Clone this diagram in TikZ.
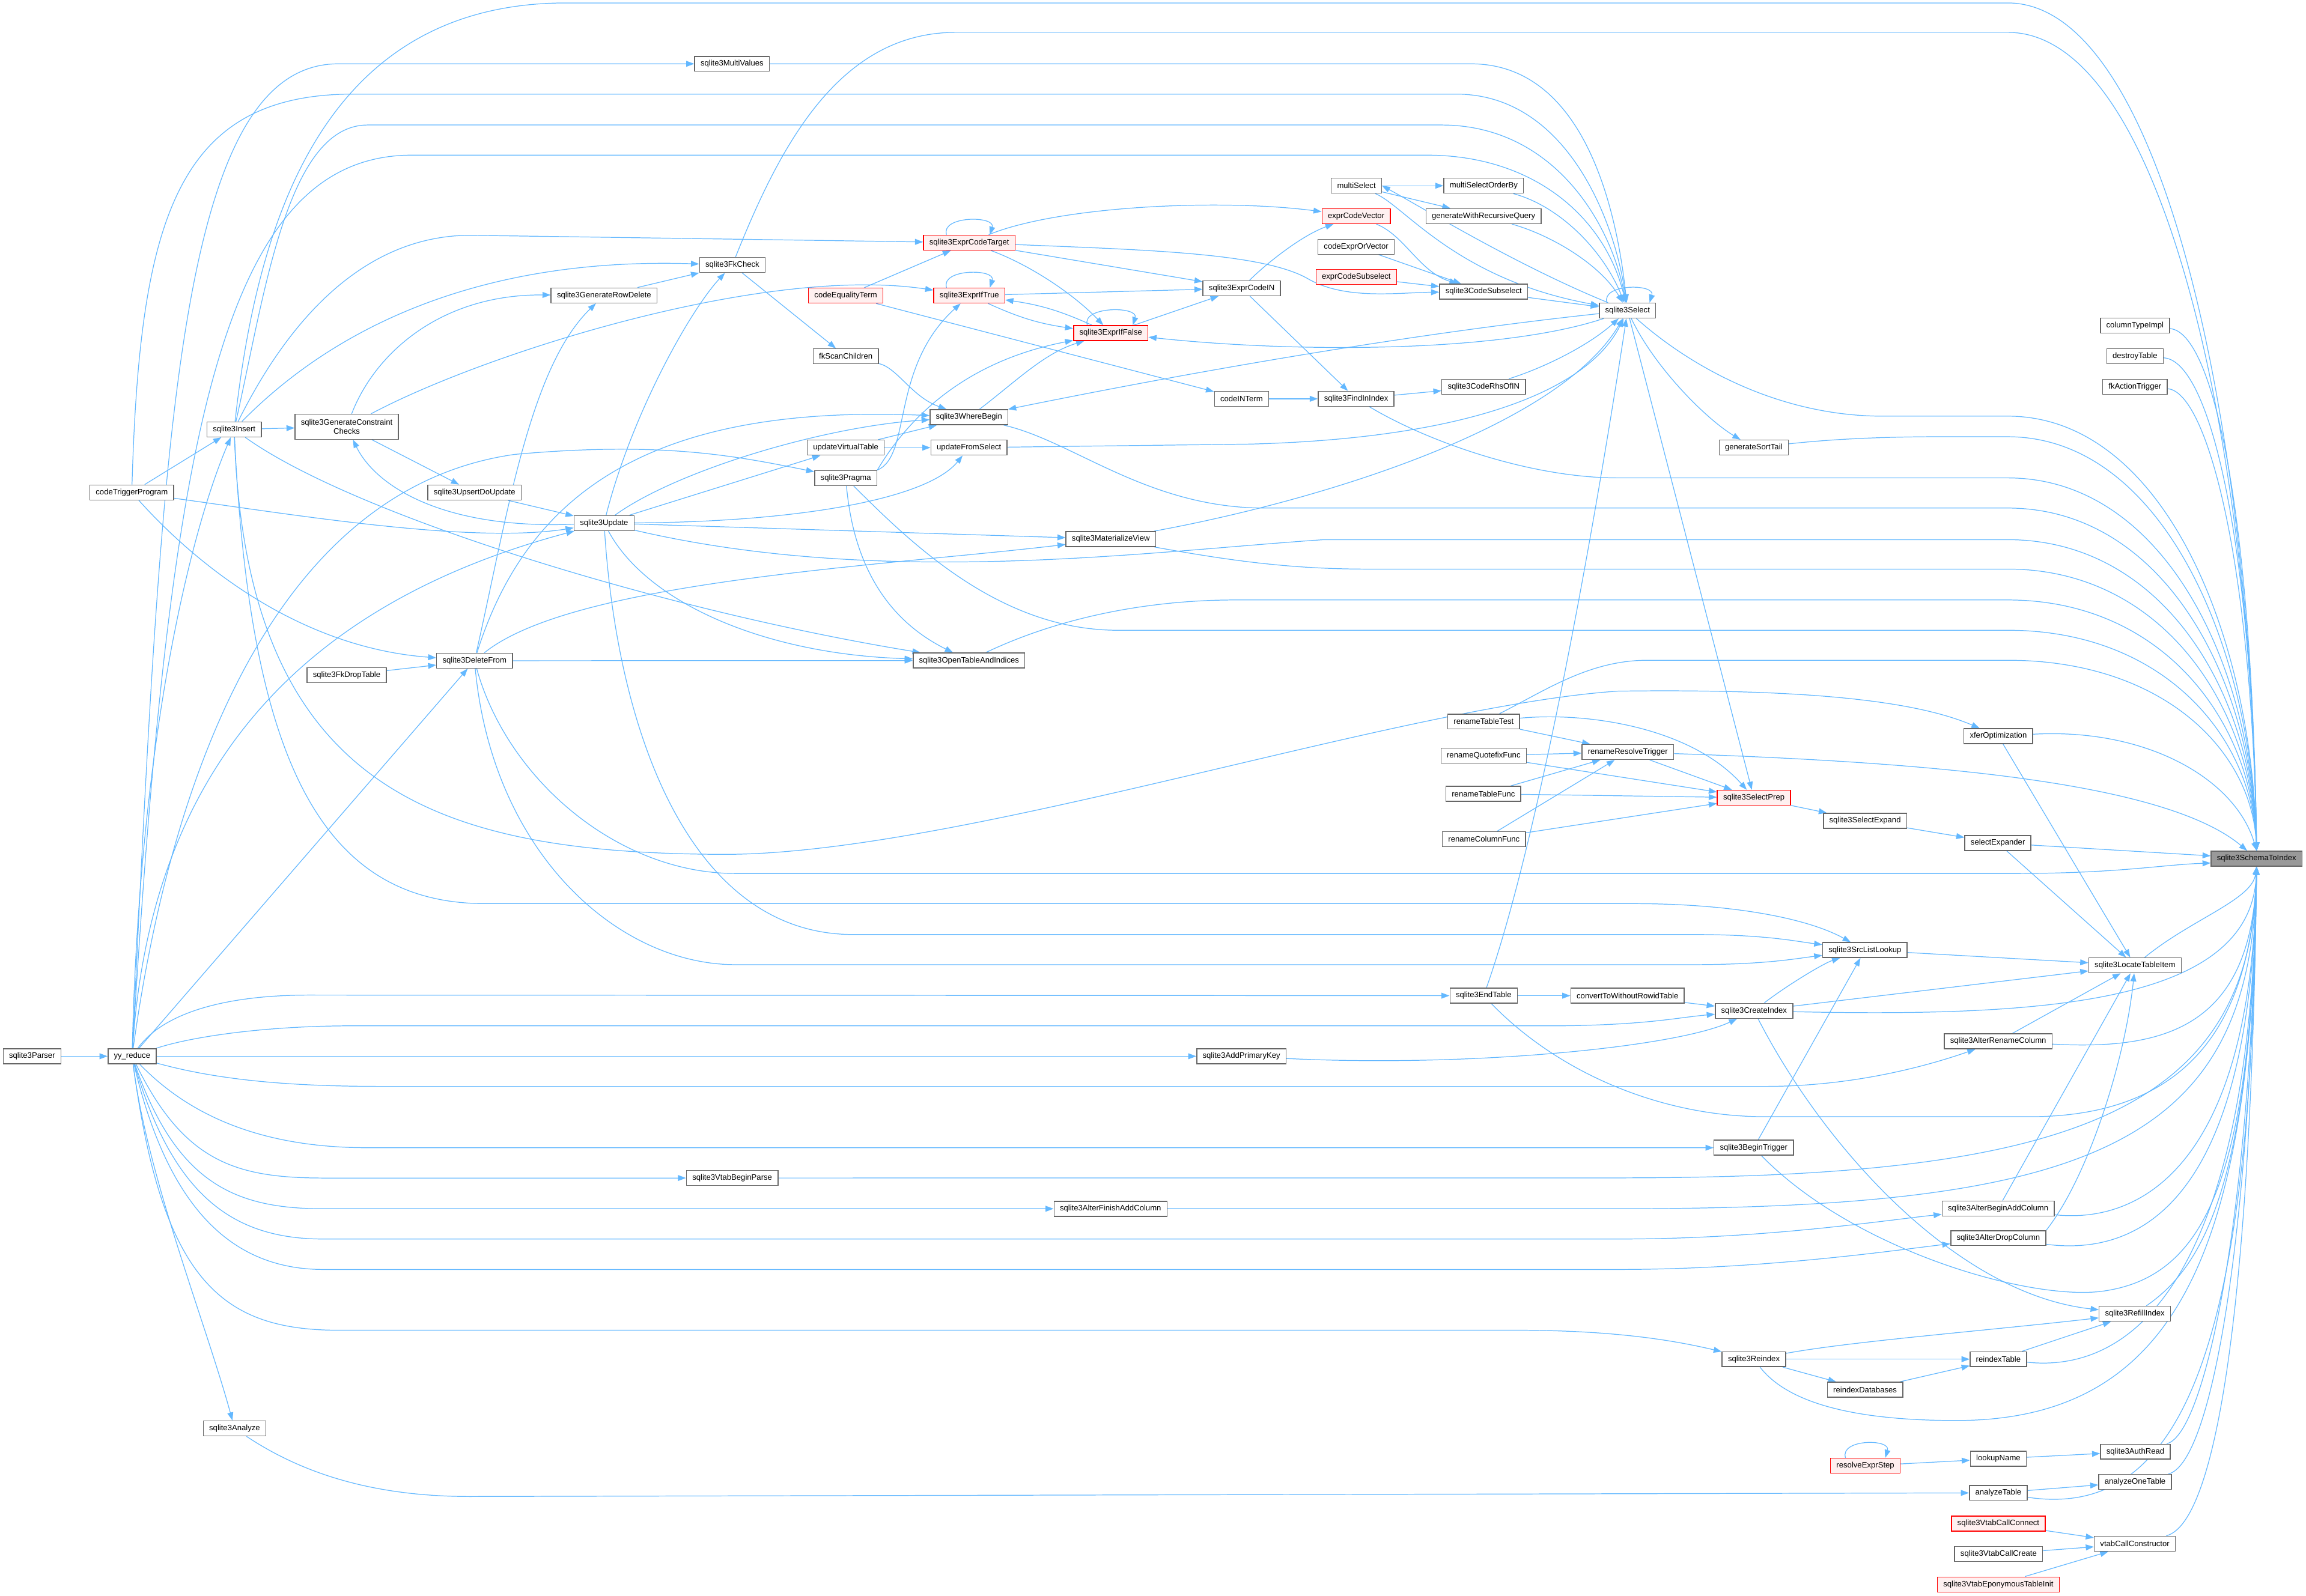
\documentclass[tikz,border=0pt]{standalone}
\usepackage{fontspec}
\setmainfont{Liberation Sans}
\usetikzlibrary{arrows.meta,backgrounds}
\definecolor{edgeblue}{HTML}{63B8FF}
\definecolor{boxgray}{HTML}{666666}
\definecolor{hotfill}{HTML}{FFF0F0}
\definecolor{rootfill}{HTML}{999999}

\begin{document}
\begin{tikzpicture}[x=1pt, y=-1pt,
    fn/.style={draw=boxgray, line width=0.6pt, fill=white, inner xsep=4pt,
        inner ysep=0pt, minimum height=10.2pt, font=\fontsize{5.36}{6.4}\selectfont},
    hot/.style={fn, draw=red, fill=hotfill},
    root/.style={fn, fill=rootfill},
    edge/.style={draw=edgeblue, line width=0.5pt, -{Triangle[length=5.5pt,width=4pt]}}]

\node[root](sti) at (1534.2,583.9){sqlite3SchemaToIndex};
\node[fn](colt) at (1451.5,221.4){columnTypeImpl};
\node[fn](dest) at (1451.5,242.3){destroyTable};
\node[fn](fkat) at (1451.5,263){fkActionTrigger};
\node[fn](sel) at (1106.5,211.2){sqlite3Select};
\node[fn](msel) at (922.2,126.3){multiSelect};
\node[fn](mso) at (1008.7,126.3){multiSelectOrderBy};
\node[fn](gwr) at (1008.6,147){generateWithRecursiveQuery};
\node[hot](ecv) at (922,147){exprCodeVector};
\node[fn](ceov) at (922,167.8){codeExprOrVector};
\node[hot](ecs) at (922.1,188.4){exprCodeSubselect};
\node[fn](csub) at (1008.7,198.3){sqlite3CodeSubselect};
\node[fn](ecin) at (844.2,196){sqlite3ExprCodeIN};
\node[hot](ect) at (659,165){sqlite3ExprCodeTarget};
\node[hot](eit) at (659,201){sqlite3ExprIfTrue};
\node[hot](eif) at (755.2,226.5){sqlite3ExprIfFalse};
\node[hot](ceq) at (575,201){codeEqualityTerm};
\node[fn](fksc) at (575,242.3){fkScanChildren};
\node[fn](cint) at (844.1,271.2){codeINTerm};
\node[fn](fii) at (922,271.2){sqlite3FindInIndex};
\node[fn](crhs) at (1008.7,263){sqlite3CodeRhsOfIN};
\node[fn](gst) at (1192.3,304.4){generateSortTail};
\node[fn](wb) at (658.8,283.7){sqlite3WhereBegin};
\node[fn](uvt) at (575,304.4){updateVirtualTable};
\node[fn](ufs) at (658.8,304.4){updateFromSelect};
\node[fn](prag) at (575,325.1){sqlite3Pragma};
\node[fn](mview) at (755.2,366.6){sqlite3MaterializeView};
\node[fn](mval) at (497.7,43.4){sqlite3MultiValues};
\node[fn](fkc) at (497.9,180.2){sqlite3FkCheck};
\node[fn](grd) at (410.7,200.9){sqlite3GenerateRowDelete};
\node[fn](ins) at (159.2,292){sqlite3Insert};
\node[fn, align=center, minimum height=17pt](gcc) at (235.7,290.2){sqlite3GenerateConstraint\\Checks};
\node[fn](ctp) at (89.6,334.9){codeTriggerProgram};
\node[fn](upsert) at (322.6,334.9){sqlite3UpsertDoUpdate};
\node[fn](upd) at (410.7,355.7){sqlite3Update};
\node[fn](del) at (322.6,449.3){sqlite3DeleteFrom};
\node[fn](fkdrop) at (235.7,459.1){sqlite3FkDropTable};
\node[fn](parser) at (21.8,718.3){sqlite3Parser};
\node[fn](yy) at (89.8,718.3){yy\_reduce};
\node[fn](ota) at (658.8,449.2){sqlite3OpenTableAndIndices};
\node[fn](rtt) at (1008.7,490.7){renameTableTest};
\node[fn](rqf) at (1008.7,513.9){renameQuotefixFunc};
\node[fn](rtf) at (1008.5,539.8){renameTableFunc};
\node[fn](rcf) at (1008.9,570.7){renameColumnFunc};
\node[fn](rrt) at (1106.7,511.4){renameResolveTrigger};
\node[hot](sprep) at (1192.4,542.5){sqlite3SelectPrep};
\node[fn](sexp) at (1268,558.2){sqlite3SelectExpand};
\node[fn](sexpr) at (1358.3,573.3){selectExpander};
\node[fn](xfer) at (1358.6,500.6){xferOptimization};
\node[fn](sll) at (1267.9,646.1){sqlite3SrcListLookup};
\node[fn](lti) at (1451.5,656.5){sqlite3LocateTableItem};
\node[fn](endt) at (1008.7,677.1){sqlite3EndTable};
\node[fn](cwr) at (1106.5,677.1){convertToWithoutRowidTable};
\node[fn](cidx) at (1192.5,687.4){sqlite3CreateIndex};
\node[fn](apk) at (844,718.3){sqlite3AddPrimaryKey};
\node[fn](arc) at (1358.5,708.1){sqlite3AlterRenameColumn};
\node[fn](btrig) at (1192.3,780.5){sqlite3BeginTrigger};
\node[fn](vbp) at (497.8,801.1){sqlite3VtabBeginParse};
\node[fn](afac) at (755,822){sqlite3AlterFinishAddColumn};
\node[fn](abac) at (1358.5,821.8){sqlite3AlterBeginAddColumn};
\node[fn](adc) at (1358.6,842){sqlite3AlterDropColumn};
\node[fn](rfi) at (1451.4,893.4){sqlite3RefillIndex};
\node[fn](rdx) at (1192.4,924.3){sqlite3Reindex};
\node[fn](rtab) at (1358.6,924.3){reindexTable};
\node[fn](rdb) at (1268,945.1){reindexDatabases};
\node[fn](ana) at (159.5,971.4){sqlite3Analyze};
\node[fn](auth) at (1451.8,987.2){sqlite3AuthRead};
\node[hot](res) at (1268.2,996.8){resolveExprStep};
\node[fn](lkn) at (1358.6,992){lookupName};
\node[fn](aot) at (1451.6,1007.8){analyzeOneTable};
\node[fn](atab) at (1358.6,1015.2){analyzeTable};
\node[hot](vcc) at (1358.6,1036.1){sqlite3VtabCallConnect};
\node[fn](vcon) at (1451.4,1049.8){vtabCallConstructor};
\node[fn](vcr) at (1358.8,1056.8){sqlite3VtabCallCreate};
\node[hot](vept) at (1358.6,1077.5){sqlite3VtabEponymousTableInit};

\begin{scope}[on background layer]
\fill[white] (0,0) rectangle (1567.8,1085);

% into the root from above
\draw[edge] (ins) .. controls (175,150) and (220,2) .. (385,2) -- (1365,2) .. controls (1470,2) and (1531,290) .. (sti.north);
\draw[edge] (fkc) .. controls (530,100) and (570,22) .. (650,22) -- (1365,22) .. controls (1470,22) and (1531,300) .. (sti.north);
\draw[edge] (colt) .. controls (1505,226) and (1531,350) .. (sti.north);
\draw[edge] (dest) .. controls (1502,245) and (1531,365) .. (sti.north);
\draw[edge] (fkat) .. controls (1500,266) and (1531,380) .. (sti.north);
\draw[edge] (sel) .. controls (1150,250) and (1210,283) .. (1280,283) -- (1365,283) .. controls (1470,283) and (1531,430) .. (sti.north);
\draw[edge] (gst) .. controls (1270,296) and (1320,297) .. (1365,297) .. controls (1470,297) and (1531,440) .. (sti.north);
\draw[edge] (fii) .. controls (970,300) and (1040,325) .. (1100,325) -- (1365,325) .. controls (1470,325) and (1531,450) .. (sti.north);
\draw[edge] (wb) .. controls (730,300) and (780,345.5) .. (860,345.5) -- (1365,345.5) .. controls (1470,345.5) and (1531,460) .. (sti.north);
\draw[edge] (upd) .. controls (600,400) and (780,375) .. (900,367) -- (1365,367) .. controls (1470,367) and (1531,470) .. (sti.north);
\draw[edge] (mview) .. controls (840,382) and (880,387) .. (930,387) -- (1365,387) .. controls (1470,387) and (1531,480) .. (sti.north);
\draw[edge] (ota) .. controls (720,420) and (780,408) .. (840,408) -- (1365,408) .. controls (1470,408) and (1531,490) .. (sti.north);
\draw[edge] (prag) .. controls (620,370) and (680,428.6) .. (760,428.6) -- (1365,428.6) .. controls (1470,428.6) and (1531,500) .. (sti.north);
\draw[edge] (rtt) .. controls (1050,470) and (1080,449) .. (1120,449) -- (1365,449) .. controls (1470,449) and (1531,510) .. (sti.north);
\draw[edge] (rrt) .. controls (1300,518) and (1470,530) .. (sti);
\draw[edge] (xfer) .. controls (1460,495) and (1520,530) .. (sti.north);
\draw[edge] (sexpr) -- (sti);
\draw[edge] (del) .. controls (345,530) and (420,594) .. (500,594) -- (1370,594) .. controls (1440,594) and (1470,588) .. ([yshift=-3pt]sti.west);

% into the root from below
\draw[edge] (lti) .. controls (1490,625) and (1531,612) .. (sti.south);
\draw[edge] (cidx) .. controls (1400,692) and (1531,680) .. (sti.south);
\draw[edge] (arc) .. controls (1470,714) and (1531,700) .. (sti.south);
\draw[edge] (endt) .. controls (1060,730) and (1130,759.4) .. (1200,759.4) -- (1380,759.4) .. controls (1500,759.4) and (1531,680) .. (sti.south);
\draw[edge] (vbp) -- (1100,801) .. controls (1400,801) and (1531,760) .. (sti.south);
\draw[edge] (afac) -- (1100,822) .. controls (1420,822) and (1531,780) .. (sti.south);
\draw[edge] (abac) .. controls (1450,832) and (1531,800) .. (sti.south);
\draw[edge] (adc) .. controls (1460,855) and (1531,810) .. (sti.south);
\draw[edge] (btrig) .. controls (1260,850) and (1380,885) .. (1430,878) .. controls (1500,868) and (1531,800) .. (sti.south);
\draw[edge] (rfi) .. controls (1500,860) and (1531,800) .. (sti.south);
\draw[edge] (rtab) .. controls (1460,935) and (1531,850) .. (sti.south);
\draw[edge] (rdx) .. controls (1220,960) and (1280,966) .. (1330,966) .. controls (1480,966) and (1531,850) .. (sti.south);
\draw[edge] (auth) .. controls (1500,975) and (1531,820) .. (sti.south);
\draw[edge] (aot) .. controls (1505,995) and (1531,830) .. (sti.south);
\draw[edge] (atab) .. controls (1490,1035) and (1531,900) .. (sti.south);
\draw[edge] (vcon) .. controls (1510,1035) and (1531,860) .. (sti.south);

% into sqlite3Select
\draw[edge] (mval) -- (1000,43.4) .. controls (1080,43.4) and (1100,150) .. (sel);
\draw[edge] (ctp) .. controls (95,150) and (120,64) .. (240,64) -- (990,64) .. controls (1065,64) and (1098,150) .. (sel);
\draw[edge] (ins) .. controls (180,200) and (195,85) .. (250,85) -- (980,85) .. controls (1055,85) and (1095,150) .. (sel);
\draw[edge] (yy) .. controls (115,300) and (150,105.5) .. (280,105.5) -- (970,105.5) .. controls (1045,105.5) and (1092,150) .. (sel);
\draw[edge] (mso) .. controls (1060,140) and (1090,170) .. (sel);
\draw[edge] (gwr) .. controls (1055,160) and (1088,180) .. (sel);
\draw[edge] (msel) .. controls (955,140) and (990,190) .. (sel);
\draw[edge] (sel) .. controls (1030,180) and (965,140) .. (msel.east);
\draw[edge] (csub) -- (sel);
\draw[edge] (crhs) .. controls (1050,250) and (1080,235) .. (sel);
\draw[edge] (mview) .. controls (900,340) and (1060,290) .. (sel);
\draw[edge] (ufs) -- (850,302) .. controls (1000,298) and (1080,265) .. (sel);
\draw[edge] (endt) .. controls (1050,560) and (1090,320) .. (sel);
\draw[edge] ([xshift=-14pt]sel.north) .. controls +(-4,-13) and +(4,-13) .. ([xshift=15pt]sel.north);

% out of sqlite3Select
\draw[edge] (sel) .. controls (1020,240) and (880,240) .. (eif);
\draw[edge] (sel) .. controls (950,228) and (800,255) .. (wb);
\draw[edge] (sel) .. controls (1125,250) and (1160,285) .. (gst);
\draw[edge] (sel) -- (sprep);

% expression code
\draw[edge] ([xshift=-15.5pt]ect.north) .. controls +(-4,-13) and +(4,-13) .. ([xshift=14pt]ect.north);
\draw[edge] ([xshift=-15.5pt]eit.north) .. controls +(-4,-13) and +(4,-13) .. ([xshift=14pt]eit.north);
\draw[edge] ([xshift=-16pt]eif.north) .. controls +(-4,-13) and +(4,-13) .. ([xshift=15pt]eif.north);
\draw[edge] (ect) .. controls (780,170) and (860,172) .. (890,190) .. controls (915,204) and (950,199) .. (csub);
\draw[edge] (ect) .. controls (720,140) and (830,135) .. (ecv);
\draw[edge] (ect) -- (ecin);
\draw[edge] (ect) .. controls (700,180) and (730,200) .. (eif);
\draw[edge] (ceq) -- (ect);
\draw[edge] (ceq) -- (cint);
\draw[edge] (eit) -- (ecin);
\draw[edge] (eit) to[bend right=8] (eif);
\draw[edge] (eif) to[bend right=8] (eit);
\draw[edge] (eif) -- (ecin);
\draw[edge] (ecin) .. controls (860,180) and (885,160) .. (ecv);
\draw[edge] (ecin) -- (fii);
\draw[edge] (cint) -- (fii);
\draw[edge] (fii) -- (crhs);
\draw[edge] (ecv) .. controls (955,160) and (965,185) .. (csub);
\draw[edge] (ceov) -- (csub);
\draw[edge] (ecs) -- (csub);
\draw[edge] (msel) -- (mso);
\draw[edge] (msel) -- (gwr);

% where clause and foreign keys
\draw[edge] (fkc) -- (fksc);
\draw[edge] (fksc) .. controls (610,250) and (620,270) .. (wb);
\draw[edge] (wb) .. controls (690,260) and (710,240) .. (eif);
\draw[edge] (uvt) -- (wb);
\draw[edge] (uvt) -- (ufs);
\draw[edge] (prag.north east) .. controls (620,310) and (605,250) .. (eit);
\draw[edge] (prag.north east) .. controls (620,280) and (660,245) .. (eif);
\draw[edge] (prag) .. controls (580,380) and (600,420) .. (ota);

% statements
\draw[edge] (parser) -- (yy);
\draw[edge] (yy) .. controls (95,500) and (130,360) .. (ins);
\draw[edge] (ctp) -- (ins);
\draw[edge] (yy) .. controls (110,300) and (120,43.4) .. (230,43.4) -- (mval);
\draw[edge] (ins) .. controls (190,230) and (240,160) .. (320,160) -- (ect);
\draw[edge] (ins) .. controls (230,220) and (330,175) .. (fkc);
\draw[edge] (ins) -- (gcc);
\draw[edge] (ins) .. controls (240,350) and (450,415) .. (ota);
\draw[edge] (ins) .. controls (168,540) and (300,580) .. (490,581) .. controls (650,582) and (950,480) .. (1100,470) .. controls (1250,468) and (1310,480) .. (xfer);
\draw[edge] (ins) .. controls (170,520) and (220,614.5) .. (330,614.5) -- (1110,614.5) .. controls (1180,614.5) and (1230,625) .. (sll);
\draw[edge] (gcc) .. controls (255,240) and (300,200) .. (grd);
\draw[edge] (gcc) .. controls (330,240) and (520,180) .. (eit);
\draw[edge] (gcc) -- (upsert);
\draw[edge] (upsert) -- (upd);
\draw[edge] (upd) .. controls (300,360) and (255,330) .. (gcc);
\draw[edge] (grd) -- (fkc);
\draw[edge] (del) .. controls (345,350) and (360,250) .. (grd);
\draw[edge] (upd) .. controls (430,280) and (470,210) .. (fkc);
\draw[edge] (upd) .. controls (460,320) and (560,290) .. (wb);
\draw[edge] (del) .. controls (360,330) and (450,275) .. (wb);
\draw[edge] (upd) -- (uvt);
\draw[edge] (upd) .. controls (540,355) and (630,340) .. (ufs);
\draw[edge] (upd) -- (mview);
\draw[edge] (del) .. controls (390,395) and (600,385) .. (mview);
\draw[edge] (upd) .. controls (440,410) and (520,445) .. (ota);
\draw[edge] (del) -- (ota);
\draw[edge] (upd) .. controls (420,500) and (470,635.5) .. (580,635.5) -- (1150,635.5) .. controls (1200,635.5) and (1220,640) .. (sll);
\draw[edge] (del) .. controls (335,580) and (420,656) .. (500,656) -- (1150,656) .. controls (1200,656) and (1220,652) .. (sll);
\draw[edge] (ctp) .. controls (200,350) and (320,370) .. (upd);
\draw[edge] (ctp) .. controls (130,380) and (200,440) .. (del);
\draw[edge] (yy) .. controls (100,560) and (170,420) .. (upd);
\draw[edge] (yy) -- (del);
\draw[edge] (yy) .. controls (120,500) and (200,330) .. (350,309) .. controls (450,300) and (500,310) .. (prag);
\draw[edge] (yy) .. controls (100,800) and (140,900) .. (ana);
\draw[edge] (fkdrop) -- (del);

% parser actions
\draw[edge] (yy) .. controls (110,690) and (150,676.7) .. (210,676.7) -- (endt);
\draw[edge] (yy) .. controls (130,705) and (180,697.6) .. (240,697.6) -- (1060,697.6) .. controls (1120,697) and (1140,692) .. (cidx);
\draw[edge] (yy) -- (apk);
\draw[edge] (yy) .. controls (150,735) and (200,738.8) .. (260,738.8) -- (1200,738.8) .. controls (1260,738.8) and (1310,725) .. (arc);
\draw[edge] (yy) .. controls (130,760) and (180,780.5) .. (250,780.5) -- (btrig);
\draw[edge] (yy) .. controls (125,790) and (160,801.1) .. (220,801.1) -- (vbp);
\draw[edge] (yy) .. controls (120,805) and (160,822) .. (220,822) -- (afac);
\draw[edge] (yy) .. controls (118,815) and (160,842.6) .. (220,842.6) -- (1100,842.6) .. controls (1200,842.6) and (1280,830) .. (abac);
\draw[edge] (yy) .. controls (115,825) and (160,863.3) .. (220,863.3) -- (1100,863.3) .. controls (1200,863.3) and (1290,850) .. (adc);
\draw[edge] (yy) .. controls (110,870) and (150,904.6) .. (230,904.6) -- (1030,904.6) .. controls (1100,904.6) and (1140,912) .. (rdx);
\draw[edge] (ana) .. controls (210,1005) and (260,1017.7) .. (320,1017.7) -- (atab);

% rename, select prep and table lookup
\draw[edge] (rtt) -- (rrt);
\draw[edge] (rtt) .. controls (1080,484) and (1150,495) .. (sprep);
\draw[edge] (rqf) -- (rrt);
\draw[edge] (rqf) -- (sprep);
\draw[edge] (rtf) -- (rrt);
\draw[edge] (rtf) -- (sprep);
\draw[edge] (rcf) -- (rrt);
\draw[edge] (rcf) -- (sprep);
\draw[edge] (rrt) -- (sprep);
\draw[edge] (sprep) -- (sexp);
\draw[edge] (sexp) -- (sexpr);
\draw[edge] (sexpr) -- (lti);
\draw[edge] (xfer) -- (lti);
\draw[edge] (sll) -- (lti);
\draw[edge] (cidx) -- (lti);
\draw[edge] (cidx) .. controls (1215,670) and (1240,655) .. (sll);
\draw[edge] (btrig) -- (sll);
\draw[edge] (arc) -- (lti);
\draw[edge] (abac) -- (lti);
\draw[edge] (adc.north east) .. controls (1420,800) and (1445,720) .. (lti);
\draw[edge] (endt) -- (cwr);
\draw[edge] (cwr) -- (cidx);
\draw[edge] (apk) .. controls (1000,726) and (1140,712) .. (cidx);
\draw[edge] (cidx) .. controls (1240,780) and (1330,880) .. (rfi);

% reindex, auth, analyze, vtab
\draw[edge] (rdx) .. controls (1260,912) and (1350,905) .. (rfi);
\draw[edge] (rdx) -- (rtab);
\draw[edge] (rdx) -- (rdb);
\draw[edge] (rdb) -- (rtab);
\draw[edge] (rtab) -- (rfi);
\draw[edge] ([xshift=-13.5pt]res.north) .. controls +(-4,-13) and +(4,-13) .. ([xshift=13.5pt]res.north);
\draw[edge] (res) -- (lkn);
\draw[edge] (lkn) -- (auth);
\draw[edge] (atab) -- (aot);
\draw[edge] (vcc) -- (vcon);
\draw[edge] (vcr) -- (vcon);
\draw[edge] (vept) -- (vcon);
\end{scope}

\end{tikzpicture}
\end{document}
